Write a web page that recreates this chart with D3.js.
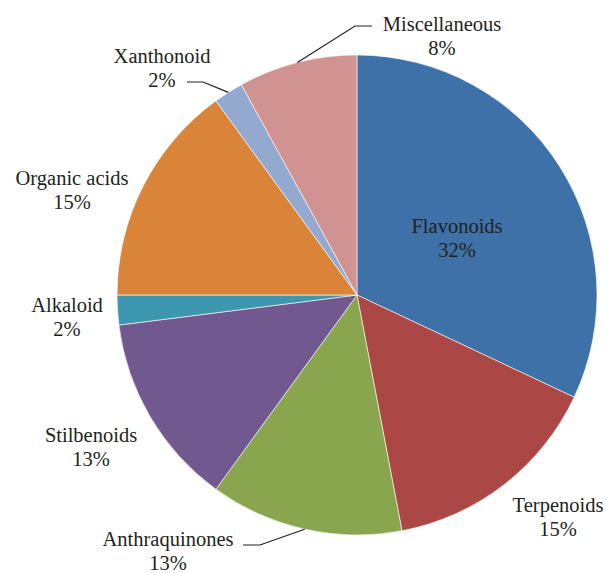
<!DOCTYPE html>
<html>
<head>
<meta charset="utf-8">
<script src="https://cdn.jsdelivr.net/npm/d3@7"></script>
<style>
  html, body { margin: 0; padding: 0; background: #fff; }
  svg { display: block; }
</style>
</head>
<body>
<svg id="chart" width="606" height="573"></svg>
<script>
// Share of compound classes (percent), clockwise from 12 o'clock
const categories = ["Flavonoids", "Terpenoids", "Anthraquinones", "Stilbenoids",
                    "Alkaloid", "Organic acids", "Xanthonoid", "Miscellaneous"];
const shares = [32, 15, 13, 13, 2, 15, 2, 8];
const colors = ["#3d71a8", "#ab4744", "#89a64e", "#71598f",
                "#3d97ae", "#da843a", "#93a9d0", "#d19392"];

// Label placement: [centre x, first baseline y]
const labelPos = [
  [457, 233], [558, 512], [168, 546], [91, 442],
  [67, 312], [72, 185], [162, 63], [442, 31]
];
const leaders = [
  null, null, { from: [243, 545], elbow: [260, 545] }, null,
  null, null, { from: [187, 82], elbow: [203, 82] }, { from: [372, 26], elbow: [355, 26] }
];

const FONT = "'Liberation Serif', 'Times New Roman', Times, serif";

const svg = d3.select("#chart");
const cx = 357, cy = 295, radius = 240;

const data = categories.map((c, i) => ({ name: c, value: shares[i], i }));

const pie = d3.pie().value(d => d.value).sort(null);
const arc = d3.arc().innerRadius(0).outerRadius(radius);
const arcs = pie(data);

const g = svg.append("g").attr("transform", `translate(${cx},${cy})`);

g.selectAll("path.slice")
  .data(arcs)
  .join("path")
  .attr("class", "slice")
  .attr("d", arc)
  .attr("fill", d => colors[d.data.i])
  .attr("stroke", "#fff")
  .attr("stroke-width", 0.6);

// Leader lines from label to the slice edge at its mid-angle
arcs.forEach(a => {
  const L = leaders[a.data.i];
  if (!L) return;
  const mid = (a.startAngle + a.endAngle) / 2;
  const ex = cx + radius * Math.sin(mid);
  const ey = cy - radius * Math.cos(mid);
  svg.append("polyline")
    .attr("points", [L.from, L.elbow, [ex, ey]].map(p => p.join(",")).join(" "))
    .attr("fill", "none")
    .attr("stroke", "#231f20")
    .attr("stroke-width", 1.2);
});

const labels = svg.selectAll("g.label")
  .data(arcs)
  .join("g")
  .attr("class", "label")
  .attr("transform", d => `translate(${labelPos[d.data.i][0]},${labelPos[d.data.i][1]})`);

labels.append("text")
  .attr("text-anchor", "middle")
  .style("font-family", FONT)
  .style("font-size", "20.5px")
  .style("fill", "#231f20")
  .text(d => d.data.name);

labels.append("text")
  .attr("text-anchor", "middle")
  .attr("y", 24)
  .style("font-family", FONT)
  .style("font-size", "20.5px")
  .style("fill", "#231f20")
  .text(d => d.data.value + "%");
</script>
</body>
</html>
